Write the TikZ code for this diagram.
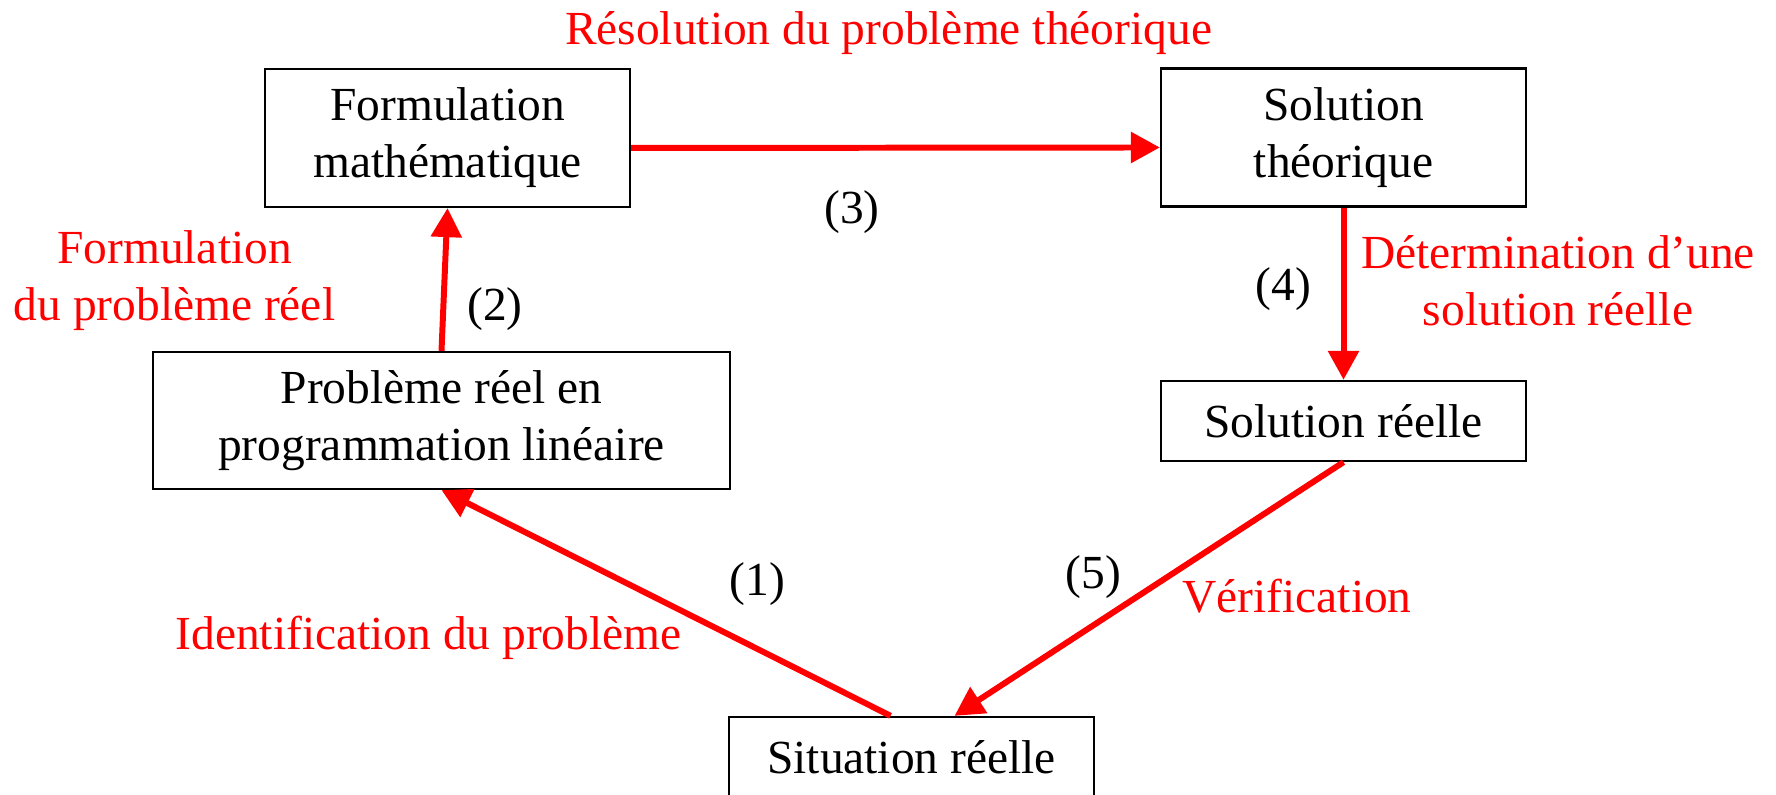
\documentclass[tikz,border=0pt]{standalone}
\usepackage{fontspec}
\setmainfont{Liberation Serif}
\usetikzlibrary{arrows.meta}
\definecolor{flow}{HTML}{FF0000}

\begin{document}
\begin{tikzpicture}[font=\fontsize{13.5}{16.2}\selectfont,
  >={Triangle[length=.29cm,width=.30cm]},
  box/.style={draw,line width=.65pt,align=center,minimum width=3.65cm,inner sep=0pt},
  link/.style={flow,line width=1.7pt,->},
  note/.style={text=flow,align=center}]
  \useasboundingbox (0,0) rectangle (17.76,7.95);

  % the five stages
  \node[box,minimum height=1.38cm] (form) at (4.475,6.57) {Formulation\\mathématique};
  \node[box,minimum height=1.38cm] (solth) at (13.435,6.575) {Solution\\théorique};
  \node[box,minimum width=5.77cm,minimum height=1.37cm] (prob) at (4.415,3.745)
    {Problème réel en\\programmation linéaire};
  \node[box,minimum height=.80cm] (solre) at (13.435,3.74) {Solution réelle};
  \node[box,minimum height=.80cm] (sit) at (9.115,.38) {Situation réelle};

  % the cycle
  \draw[link] ([xshift=-.21cm]sit.north) -- (prob.south);
  \draw[link] (prob.north) -- (form.south);
  \draw[link] ([yshift=-.1cm]form.east) -- ([yshift=-.1cm]solth.west);
  \draw[link] (solth.south) -- (solre.north);
  \draw[link] (solre.south) -- ([xshift=.43cm]sit.north);

  % step numbers
  \node[anchor=base] (n1) at (7.575,1.99) {(1)};
  \node[anchor=base] (n2) at (4.95,4.74) {(2)};
  \node[anchor=base] (n3) at (8.52,5.71) {(3)};
  \node[anchor=base] (n4) at (12.835,4.94) {(4)};
  \node[anchor=base] (n5) at (10.935,2.06) {(5)};

  % what each step does
  \node[note,anchor=base] (l3) at (8.885,7.50) {Résolution du problème théorique};
  \node[note] (l2) at (1.745,5.14) {Formulation\\du problème réel};
  \node[note] (l4) at (15.58,5.14) {Détermination d’une\\solution réelle};
  \node[note,anchor=base] (l5) at (12.97,1.82) {Vérification};
  \node[note,anchor=base] (l1) at (4.285,1.45) {Identification du problème};
\end{tikzpicture}
\end{document}
